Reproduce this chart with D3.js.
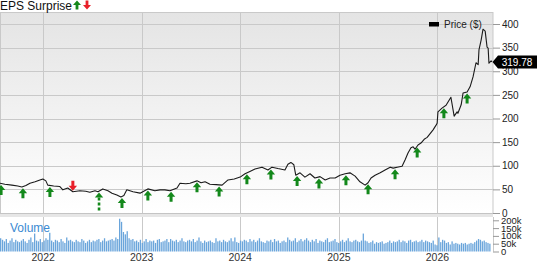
<!DOCTYPE html>
<html>
<head>
<meta charset="utf-8">
<script src="https://cdn.jsdelivr.net/npm/d3@7"></script>
<style>
  body { margin: 0; background: #fff; }
  svg { display: block; font-family: "Liberation Sans", Arial, sans-serif; }
</style>
</head>
<body>
<div id="chart"></div>
<script>
// price points (date, close $)
var priceDates = [
  "2021-07-25","2021-08-12","2021-09-07","2021-09-29","2021-10-14","2021-10-29","2021-11-13","2021-12-02","2021-12-20","2021-12-31",
  "2022-01-11","2022-01-18","2022-02-09","2022-03-04","2022-03-15","2022-04-02","2022-04-21","2022-05-17","2022-06-08","2022-06-23",
  "2022-07-12","2022-07-23","2022-08-10","2022-08-29","2022-09-13","2022-10-01","2022-10-16","2022-10-27","2022-11-07","2022-11-30",
  "2022-12-26","2023-01-24","2023-02-19","2023-03-10","2023-03-28","2023-04-16","2023-05-12","2023-05-23","2023-06-14","2023-06-29",
  "2023-07-25","2023-08-09","2023-08-24","2023-09-11","2023-10-04","2023-10-26","2023-11-17","2023-12-10","2024-01-01","2024-01-19",
  "2024-02-06","2024-02-25","2024-03-22","2024-04-13","2024-04-28","2024-05-20","2024-06-15","2024-06-26","2024-07-07","2024-07-18",
  "2024-07-25","2024-08-10","2024-08-28","2024-09-16","2024-10-04","2024-10-23","2024-11-11","2024-11-29","2024-12-18","2025-01-05",
  "2025-01-24","2025-02-11","2025-03-02","2025-03-20","2025-04-08","2025-04-19","2025-04-30","2025-05-15","2025-06-03","2025-06-21",
  "2025-07-10","2025-07-21","2025-08-05","2025-08-23","2025-09-03","2025-09-14","2025-09-25","2025-10-03","2025-10-10","2025-10-21",
  "2025-11-01","2025-11-13","2025-11-24","2025-12-05","2025-12-16","2025-12-27","2025-12-31","2026-01-03","2026-01-18","2026-02-02",
  "2026-02-20","2026-03-04","2026-03-15","2026-03-18","2026-03-30","2026-04-06","2026-04-21","2026-05-02","2026-05-13","2026-05-24",
  "2026-06-01","2026-06-04","2026-06-12","2026-06-19","2026-06-27","2026-07-04","2026-07-08","2026-07-11","2026-07-19","2026-07-22"
];
var priceValues = [
  63,61,59,57,55,58,63,66,70,72,
  68,59,57,56,49,53,45,47,46,44,
  47,45,51,47,42,38,34,37,49,45,
  42,51,47,49,49,47,53,63,62,63,
  68,64,66,61,60,59,70,72,76,83,
  88,93,97,91,97,94,91,103,107,102,
  80,85,76,83,74,77,70,74,74,80,
  83,85,78,66,59,64,74,80,85,91,
  97,95,97,99,112,127,138,140,135,144,
  148,156,160,168,176,186,190,214,222,228,
  245,205,214,211,229,254,256,267,288,318,
  314,345,366,389,385,351,349,317,322,319.78
];

// weekly volume (thousands), first week starts 2021-07-25
var volStart = "2021-07-25";
var volumeK = [
  85,75,65,80,55,70,85,60,75,65, 60,70,80,65,55,75,90,60,115,70,
  65,80,60,70,85,75,120,70,60,75, 70,60,80,65,55,90,70,75,65,60,
  75,65,60,80,70,55,65,75,60,70, 65,75,80,60,70,85,65,70,75,80,
  70,90,80,210,190,125,110,130,85,75, 80,65,70,60,75,55,65,80,60,70,
  65,70,55,75,80,60,65,70,80,60, 80,70,65,75,60,70,85,65,60,70,
  75,65,80,60,70,90,65,55,70,60, 65,70,60,55,85,65,70,60,75,65,
  60,70,85,65,90,60,55,70,65,75, 70,60,80,65,75,60,70,85,65,60,
  55,70,65,75,60,80,65,70,55,65, 70,60,90,75,65,70,85,60,70,80,
  65,75,85,70,60,75,65,80,55,70, 65,60,75,85,60,65,70,80,60,55,
  65,75,60,70,85,65,60,70,75,65, 60,70,115,70,65,55,60,70,50,60,
  55,60,65,50,55,60,70,55,65,60, 65,75,60,70,65,55,70,75,60,65,
  70,60,65,75,60,70,65,60,55,70, 45,40,90,60,75,70,55,60,45,65,
  50,55,50,45,55,50,55,45,50,55, 50,60,70,80,75,65,70,60,55,50
];

// EPS surprise markers
var epsDates = [
  "2021-07-29","2021-10-18","2022-01-26","2022-04-21","2022-07-27","2022-10-20","2023-01-24","2023-04-20","2023-07-25","2023-10-15",
  "2024-01-26","2024-04-24","2024-07-30","2024-10-19","2025-01-27","2025-04-19","2025-07-28","2025-10-18","2026-01-25","2026-04-21"
];
var epsDir = ["up","up","up","down","up","up","up","up","up","up","up","up","up","up","up","up","up","up","up","up"];
var epsDashed = [false,false,false,false,true,false,false,false,false,false,false,false,false,false,false,false,false,false,false,false];

var priceTicks = [0,50,100,150,200,250,300,350,400];
var volTicks = [0,50000,100000,150000,200000];
var lastPrice = 319.78;

var svgWidth = 538, svgHeight = 262;
var plotRight = 493;
var priceTop = 12, priceBottom = 213;
var volTop = 217, volBottom = 251.5;

var parse = d3.timeParse("%Y-%m-%d");
var prices = priceDates.map(function(d, i) { return { date: parse(d), value: priceValues[i] }; });
var vols = volumeK.map(function(v, i) { return { date: d3.timeDay.offset(parse(volStart), i * 7), value: v * 1000 }; });

var svg = d3.select("#chart").append("svg")
  .attr("width", svgWidth)
  .attr("height", svgHeight);

var x = d3.scaleTime()
  .domain([parse("2021-07-25"), parse("2026-07-26")])
  .range([0, plotRight]);

var y = d3.scaleLinear().domain([0, 400]).range([priceBottom, 24]);
var yVol = d3.scaleLinear().domain([0, 200000]).range([volBottom, 220.3]);

// background
var grad = svg.append("defs").append("linearGradient")
  .attr("id", "bg").attr("x1", 0).attr("y1", 0).attr("x2", 0).attr("y2", 1);
grad.append("stop").attr("offset", "0%").attr("stop-color", "#e4e4e4");
grad.append("stop").attr("offset", "100%").attr("stop-color", "#ffffff");

svg.append("rect")
  .attr("x", 0).attr("y", priceTop)
  .attr("width", plotRight).attr("height", priceBottom - priceTop)
  .attr("fill", "url(#bg)");

// grid
svg.append("g").selectAll("line")
  .data(priceTicks.filter(function(d) { return d > 0; }))
  .enter().append("line")
  .attr("x1", 0).attr("x2", plotRight)
  .attr("y1", function(d) { return Math.round(y(d)) + 0.5; })
  .attr("y2", function(d) { return Math.round(y(d)) + 0.5; })
  .attr("stroke", "#c9c9c9");

var years = x.ticks(d3.timeYear.every(1));
svg.append("g").selectAll("line")
  .data(years)
  .enter().append("line")
  .attr("x1", function(d) { return Math.round(x(d)) + 0.5; })
  .attr("x2", function(d) { return Math.round(x(d)) + 0.5; })
  .attr("y1", priceTop).attr("y2", volBottom)
  .attr("stroke", "#c9c9c9");

// frame
svg.append("rect")
  .attr("x", 0.5).attr("y", priceTop + 0.5)
  .attr("width", plotRight - 0.5).attr("height", priceBottom - priceTop)
  .attr("fill", "none").attr("stroke", "#c9c9c9");

// separator strip between panels
svg.append("rect")
  .attr("x", 0).attr("y", priceBottom)
  .attr("width", plotRight).attr("height", volTop - priceBottom)
  .attr("fill", "#e6e6e6");
svg.append("line")
  .attr("x1", 0).attr("x2", plotRight)
  .attr("y1", priceBottom + 0.5).attr("y2", priceBottom + 0.5)
  .attr("stroke", "#c4c4c4");
svg.append("line")
  .attr("x1", plotRight + 0.5).attr("x2", plotRight + 0.5)
  .attr("y1", volTop).attr("y2", volBottom)
  .attr("stroke", "#c9c9c9");

// volume bars
svg.append("g").selectAll("rect")
  .data(vols)
  .enter().append("rect")
  .attr("x", function(d) { return x(d.date); })
  .attr("y", function(d) { return yVol(d.value); })
  .attr("width", 1.3)
  .attr("height", function(d) { return volBottom - yVol(d.value); })
  .attr("fill", "#6aa5db");

svg.append("text")
  .attr("x", 10).attr("y", 232)
  .attr("font-size", "12px")
  .attr("fill", "#3b8ad2")
  .text("Volume");

// price line
var line = d3.line()
  .x(function(d) { return x(d.date); })
  .y(function(d) { return y(d.value); });

svg.append("path")
  .datum(prices)
  .attr("d", line)
  .attr("fill", "none")
  .attr("stroke", "#1a1a1a")
  .attr("stroke-width", 1.1)
  .attr("stroke-linejoin", "round");

// EPS arrows
var bisect = d3.bisector(function(d) { return d.date; }).left;
function priceAt(date) {
  var i = bisect(prices, date);
  if (i <= 0) return prices[0].value;
  if (i >= prices.length) return prices[prices.length - 1].value;
  var a = prices[i - 1], b = prices[i];
  var t = (date - a.date) / (b.date - a.date);
  return a.value + t * (b.value - a.value);
}
var upArrow = "M0,0L4.2,5L1.5,5L1.5,10L-1.5,10L-1.5,5L-4.2,5Z";

var eps = epsDates.map(function(d, i) { return { date: parse(d), dir: epsDir[i], dashed: epsDashed[i] }; });
var arrows = svg.append("g");
eps.forEach(function(e) {
  var cx = x(e.date);
  var cy = y(priceAt(e.date));
  if (e.dir === "up") {
    var g = arrows.append("g").attr("transform", "translate(" + cx + "," + (cy + 1.5) + ")");
    if (e.dashed) {
      g.append("path").attr("d", "M0,0L4.2,5L-4.2,5Z").attr("fill", "#13881b");
      g.append("line")
        .attr("x1", 0).attr("x2", 0)
        .attr("y1", 5).attr("y2", y(0) - 2 - (cy + 1.5))
        .attr("stroke", "#13881b").attr("stroke-width", 2.6)
        .attr("stroke-dasharray", "3,2");
    } else {
      g.append("path").attr("d", upArrow).attr("fill", "#13881b");
    }
  } else {
    arrows.append("path")
      .attr("transform", "translate(" + cx + "," + (cy - 1) + ") scale(1,-1)")
      .attr("d", upArrow)
      .attr("fill", "#e8202a");
  }
});

// right axes
var priceAxis = svg.append("g")
  .attr("transform", "translate(" + plotRight + ",0)")
  .call(d3.axisRight(y).tickValues(priceTicks).tickSize(7).tickPadding(2));
priceAxis.select(".domain").remove();
priceAxis.selectAll("line").attr("stroke", "#999");
priceAxis.selectAll("text").attr("font-size", "10px").attr("fill", "#222")
  .attr("font-family", "Liberation Sans, Arial, sans-serif");

var volAxis = svg.append("g")
  .attr("transform", "translate(" + plotRight + ",0)")
  .call(d3.axisRight(yVol).tickValues(volTicks).tickSize(6).tickPadding(2)
    .tickFormat(function(d) { return d === 0 ? "0" : (d / 1000) + "k"; }));
volAxis.select(".domain").remove();
volAxis.selectAll("line").attr("stroke", "#999");
volAxis.selectAll("text").attr("font-size", "9.5px").attr("fill", "#222")
  .attr("font-family", "Liberation Sans, Arial, sans-serif");

// year labels
svg.append("g").selectAll("text")
  .data(years)
  .enter().append("text")
  .attr("x", function(d) { return x(d); })
  .attr("y", 261)
  .attr("text-anchor", "middle")
  .attr("font-size", "10.5px")
  .attr("fill", "#333")
  .text(d3.timeFormat("%Y"));

// last price callout
var ly = y(lastPrice);
svg.append("path")
  .attr("d", "M" + (plotRight - 0.5) + "," + ly + "L" + (plotRight + 5) + "," + (ly - 6.5) +
    "L537,"+ (ly - 6.5) + "L537," + (ly + 6.5) + "L" + (plotRight + 5) + "," + (ly + 6.5) + "Z")
  .attr("fill", "#000");
svg.append("text")
  .attr("x", 517).attr("y", ly + 3.6)
  .attr("text-anchor", "middle")
  .attr("font-size", "10px")
  .attr("fill", "#fff")
  .text(lastPrice.toFixed(2));

// legend
svg.append("rect")
  .attr("x", 429).attr("y", 22).attr("width", 10).attr("height", 4.5)
  .attr("fill", "#000");
svg.append("text")
  .attr("x", 444).attr("y", 27.5)
  .attr("font-size", "10px")
  .attr("fill", "#222")
  .text("Price ($)");

// title with arrow glyphs
svg.append("text")
  .attr("x", 0).attr("y", 10)
  .attr("font-size", "12px")
  .attr("fill", "#111")
  .text("EPS Surprise");
svg.append("path")
  .attr("transform", "translate(77,0.5)")
  .attr("d", "M0,0L4,4.6L1.4,4.6L1.4,9L-1.4,9L-1.4,4.6L-4,4.6Z")
  .attr("fill", "#13881b");
svg.append("path")
  .attr("transform", "translate(87,9.5) scale(1,-1)")
  .attr("d", "M0,0L4,4.6L1.4,4.6L1.4,9L-1.4,9L-1.4,4.6L-4,4.6Z")
  .attr("fill", "#e8202a");
</script>
</body>
</html>
